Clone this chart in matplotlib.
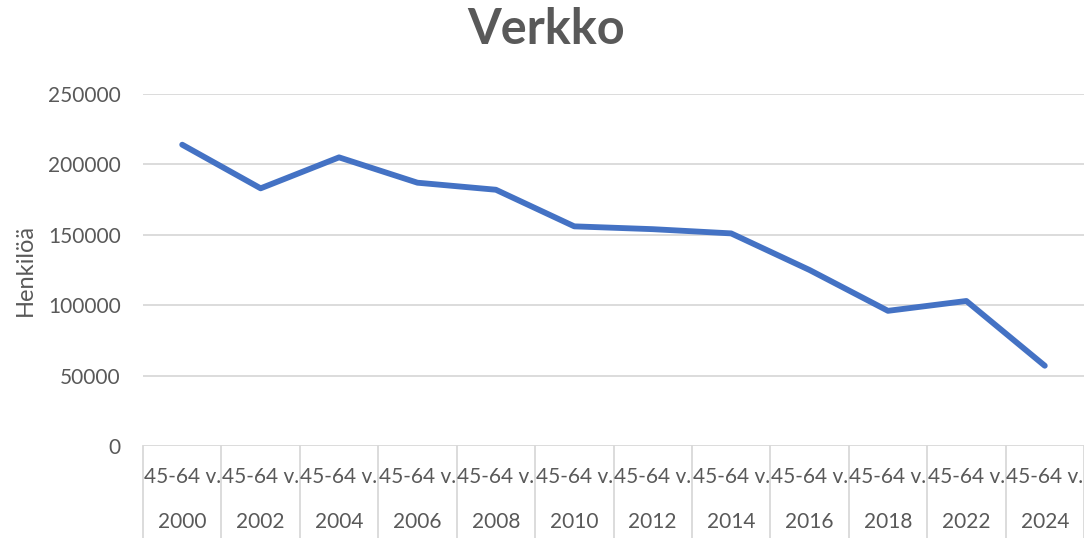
import matplotlib
matplotlib.use("Agg")
import matplotlib.pyplot as plt
import matplotlib.transforms as mtransforms

years = ["2000", "2002", "2004", "2006", "2008", "2010", "2012", "2014", "2016", "2018", "2022", "2024"]
group_label = "45-64 v."
values = [214000, 183000, 205000, 187000, 182000, 156000, 154000, 151000, 125000, 96000, 103000, 57000]
y_ticks = [0, 50000, 100000, 150000, 200000, 250000]

plt.rcParams['font.family'] = ['Lato', 'DejaVu Sans']
W, H = 1084, 538
fig = plt.figure(figsize=(W / 100, H / 100), dpi=100)
left, right, top, bottom = 143, 1084, 94, 446
ax = fig.add_axes([left / W, 1 - bottom / H, (right - left) / W, (bottom - top) / H])

txt = '#595959'
grid = '#D9D9D9'
x = list(range(len(years)))
ax.plot(x, values, color='#4472C4', lw=4.2, solid_capstyle='round', solid_joinstyle='round', zorder=3)
ax.set_xlim(-0.5, len(years) - 0.5)
ax.set_ylim(0, 250000)
ax.set_yticks(y_ticks)
ax.set_yticklabels([str(v) for v in y_ticks])
ax.tick_params(axis='y', length=0, labelsize=15, labelcolor=txt, pad=16)
ax.set_xticks([])
for v in y_ticks:
    ax.axhline(v, color=grid, lw=1.3, zorder=1)
for s in ax.spines.values():
    s.set_visible(False)

trans = mtransforms.blended_transform_factory(ax.transData, fig.transFigure)
for i in range(len(years) + 1):
    ax.plot([i - 0.5, i - 0.5], [1 - bottom / H, 0], transform=trans, color=grid, lw=1.3, clip_on=False)
for i, yr in enumerate(years):
    ax.text(i, 1 - 477 / H, group_label, transform=trans, ha='center', va='center', fontsize=15, color=txt)
    ax.text(i, 1 - 522 / H, yr, transform=trans, ha='center', va='center', fontsize=15, color=txt)

fig.text(25 / W, 1 - 270 / H, 'Henkilöä', rotation=90, ha='center', va='center', fontsize=17, color=txt)
fig.text(546 / W, 1 - 30 / H, 'Verkko', ha='center', va='center', fontsize=35, fontweight='bold', color=txt)

fig.savefig('out.png', dpi=100)
